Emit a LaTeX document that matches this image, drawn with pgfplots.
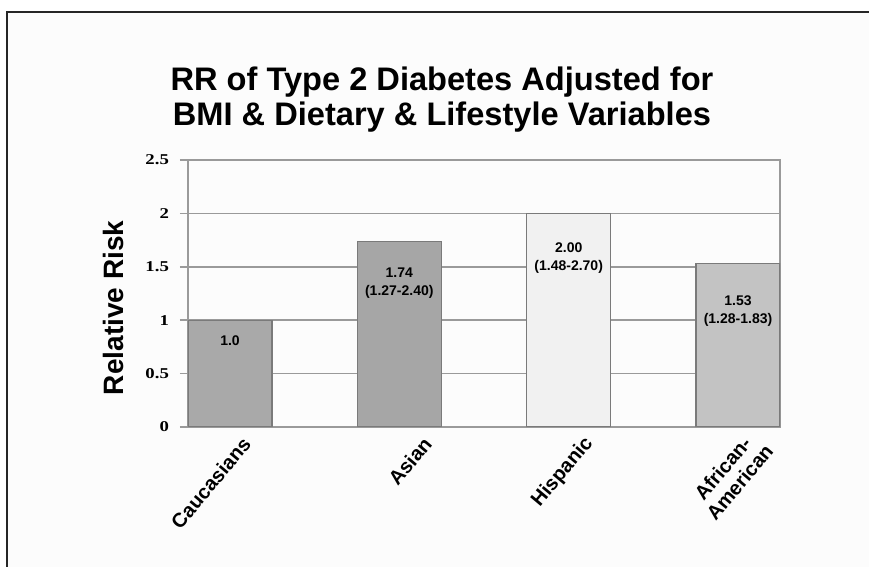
\documentclass[border=0pt]{standalone}
\usepackage{pgfplots}
\pgfplotsset{compat=1.18}
\usepackage{fontspec}
\setmainfont{Liberation Sans}
\newfontfamily\tickfont[FakeStretch=1.25]{Liberation Serif}

\definecolor{cauc}{HTML}{A9A9A9}
\definecolor{asian}{HTML}{A6A6A6}
\definecolor{hisp}{HTML}{F1F1F1}
\definecolor{afam}{HTML}{C3C3C3}
\definecolor{edge}{HTML}{7A7A7A}
\definecolor{gridc}{HTML}{9A9A9A}

\begin{document}
\begin{tikzpicture}[x=1pt,y=1pt]
\path[use as bounding box] (0,0) rectangle (434.5,283.5);
% page frame (top and left edges)
\fill[white!99!black] (3.5,0) rectangle (434.5,277.5);
\draw[line width=1.1pt, black!85] (3.5,0) -- (3.5,277.5) -- (434.5,277.5);
% title
\node[align=center, font=\bfseries\fontsize{16.3}{17.5}\selectfont] at (221,233.5)
  {RR of Type 2 Diabetes Adjusted for\\BMI \& Dietary \& Lifestyle Variables};
\begin{axis}[
  at={(94pt,70pt)}, anchor=south west,
  scale only axis, width=296pt, height=133.5pt,
  xmin=0, xmax=592, ymin=0, ymax=2.5,
  ytick={0,0.5,1,1.5,2,2.5},
  yticklabels={0,0.5,1,1.5,2,2.5},
  yticklabel style={font=\tickfont\bfseries\fontsize{7.5}{9}\selectfont, xshift=-2pt},
  ymajorgrids,
  grid style={gridc, line width=0.75pt},
  axis line style={gridc, line width=0.75pt},
  ytick style={gridc, line width=0.75pt},
  tick align=outside, major tick length=4pt,
  ytick pos=left,
  xtick={63,244,406,577},
  xticklabels={Caucasians, Asian, Hispanic, {African-\\American}},
  xtick style={draw=none},
  xticklabel style={rotate=50, anchor=east, align=center,
    font=\bfseries\fontsize{10}{11}\selectfont},
  ylabel={Relative Risk},
  ylabel style={font=\bfseries\fontsize{14}{16}\selectfont,
    at={(axis description cs:-0.1267,0.446)}, anchor=center},
  ybar, bar width=84,
  nodes near coords,
  point meta=explicit symbolic,
  nodes near coords style={font=\bfseries\fontsize{7}{9}\selectfont, align=center, anchor=center, text=black},
]
\addplot[bar shift=0pt, fill=cauc, draw=edge, line width=0.6pt,
  nodes near coords style={yshift=-10pt}]
  coordinates {(42,1.0) [1.0]};
\addplot[bar shift=0pt, fill=asian, draw=edge, line width=0.6pt,
  nodes near coords style={yshift=-21pt}]
  coordinates {(211.3,1.74) [{1.74\\(1.27-2.40)}]};
\addplot[bar shift=0pt, fill=hisp, draw=edge, line width=0.6pt,
  nodes near coords style={yshift=-22.5pt}]
  coordinates {(380.7,2.00) [{2.00\\(1.48-2.70)}]};
\addplot[bar shift=0pt, fill=afam, draw=edge, line width=0.6pt,
  nodes near coords style={yshift=-23.5pt}]
  coordinates {(550,1.53) [{1.53\\(1.28-1.83)}]};
\end{axis}
\end{tikzpicture}
\end{document}
